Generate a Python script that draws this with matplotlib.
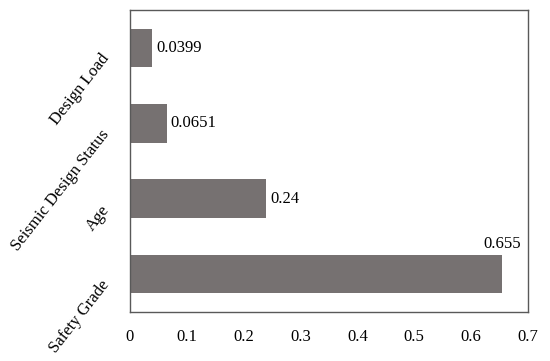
import matplotlib.pyplot as plt
from matplotlib.transforms import ScaledTranslation

# data, bottom to top
features = ["Safety Grade", "Age", "Seismic Design Status", "Design Load"]
importance = [0.655, 0.24, 0.0651, 0.0399]
value_labels = ["0.655", "0.24", "0.0651", "0.0399"]
x_ticks = [0, 0.1, 0.2, 0.3, 0.4, 0.5, 0.6, 0.7]

plt.rcParams['font.family'] = ['Liberation Serif', 'DejaVu Serif']
plt.rcParams['font.size'] = 12

fig = plt.figure(figsize=(5.5, 3.61), dpi=100)
ax = fig.add_axes([0.236, 0.136, 0.724, 0.836])

pos = list(range(len(features)))
ax.barh(pos, importance, height=0.51, color="#767171")

for i, (v, lab) in enumerate(zip(importance, value_labels)):
    if v > 0.5:
        ax.text(v, i + 0.3, lab, ha="center", va="bottom")
    else:
        ax.text(v + 0.007, i, lab, ha="left", va="center")

ax.set_xlim(0, 0.7)
ax.set_ylim(-0.5, 3.5)
ax.set_xticks(x_ticks)
ax.set_xticklabels([f"{t:g}" for t in x_ticks])
ax.set_yticks(pos)
ax.set_yticklabels(features, rotation=52, ha="right", va="center",
                   rotation_mode="anchor")
ax.tick_params(axis="x", length=0, pad=12)
ax.tick_params(axis="y", length=0, pad=17)

# nudge the slanted labels down a little
shift = ScaledTranslation(0, -6 / 72, fig.dpi_scale_trans)
for lbl in ax.get_yticklabels():
    lbl.set_transform(lbl.get_transform() + shift)

for s in ax.spines.values():
    s.set_color("#595959")
    s.set_linewidth(1.0)

fig.savefig("out.png", dpi=100)
